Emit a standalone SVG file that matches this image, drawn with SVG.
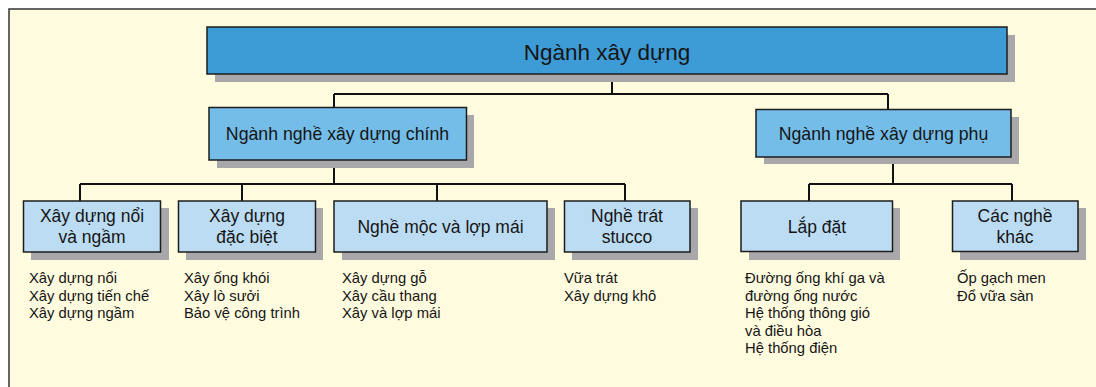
<svg xmlns="http://www.w3.org/2000/svg" width="1096" height="387" viewBox="0 0 1096 387">
<style>
  text { font-family: "Liberation Sans", Arial, sans-serif; fill: #151515; }
  .sh { fill: #a8a8ab; }
  .b { stroke: #1c1c1c; stroke-width: 1.5; }
  .top { fill: #3d9bd6; }
  .l2 { fill: #74bde8; }
  .l3 { fill: #bcdcf3; }
  .t1 { font-size: 22.5px; text-anchor: middle; }
  .t2 { font-size: 17.7px; text-anchor: middle; }
  .t3 { font-size: 17.5px; text-anchor: middle; }
  .li { font-size: 14.8px; }
  .conn { fill: none; stroke: #111; stroke-width: 2; }
</style>
<rect x="0" y="0" width="1096" height="387" fill="#ffffff"/>
<rect x="9" y="9" width="1120" height="420" fill="#fffbde" stroke="#333" stroke-width="1.5"/>

<g id="connectors">
  <path class="conn" d="M612 74 V94 M334 94 H888 M334 94 V107.5 M888 94 V109.5"/>
  <path class="conn" d="M334 160 V184 M80 184 H625 M80 184 V201 M242 184 V201 M437 184 V201 M625 184 V201"/>
  <path class="conn" d="M893 157 V184 M809 184 H1012 M809 184 V201 M1012 184 V201"/>
</g>

<g id="root">
  <rect class="sh" x="215" y="35" width="800" height="47"/>
  <rect class="top b" x="207" y="27" width="800" height="47"/>
  <text class="t1" x="607" y="59.5">Ngành xây dựng</text>
</g>

<g id="main-trades">
  <rect class="sh" x="217" y="115" width="257" height="53"/>
  <rect class="l2 b" x="209" y="107.5" width="257.5" height="52.5"/>
  <text class="t2" x="337.5" y="140">Ngành nghề xây dựng chính</text>
</g>

<g id="sub-trades">
  <rect class="sh" x="764" y="117" width="255" height="47"/>
  <rect class="l2 b" x="756" y="109.5" width="255" height="47.5"/>
  <text class="t2" x="883.5" y="140">Ngành nghề xây dựng phụ</text>
</g>

<g id="surface-underground">
  <rect class="sh" x="31" y="208" width="138" height="52"/>
  <rect class="l3 b" x="23.5" y="201" width="137" height="51"/>
  <text class="t3" x="92" y="221.5">Xây dựng nổi</text>
  <text class="t3" x="92" y="242.5">và ngầm</text>
  <text class="li" x="29" y="283">Xây dựng nổi</text>
  <text class="li" x="29" y="300.5">Xây dựng tiến chế</text>
  <text class="li" x="29" y="318">Xây dựng ngầm</text>
</g>

<g id="special">
  <rect class="sh" x="186" y="208" width="137" height="52"/>
  <rect class="l3 b" x="178.5" y="201" width="137" height="51"/>
  <text class="t3" x="247" y="221.5">Xây dựng</text>
  <text class="t3" x="247" y="242.5">đặc biệt</text>
  <text class="li" x="184" y="283">Xây ống khói</text>
  <text class="li" x="184" y="300.5">Xây lò sưởi</text>
  <text class="li" x="184" y="318">Bảo vệ công trình</text>
</g>

<g id="carpentry">
  <rect class="sh" x="342" y="208" width="213" height="52"/>
  <rect class="l3 b" x="334" y="201" width="213" height="51"/>
  <text class="t3" x="440.5" y="232.5">Nghề mộc và lợp mái</text>
  <text class="li" x="342" y="283">Xây dựng gỗ</text>
  <text class="li" x="342" y="300.5">Xây cầu thang</text>
  <text class="li" x="342" y="318">Xây và lợp mái</text>
</g>

<g id="stucco">
  <rect class="sh" x="572" y="208" width="126" height="52"/>
  <rect class="l3 b" x="564.5" y="201" width="125.5" height="51"/>
  <text class="t3" x="627" y="221.5">Nghề trát</text>
  <text class="t3" x="627" y="242.5">stucco</text>
  <text class="li" x="564" y="283">Vữa trát</text>
  <text class="li" x="564" y="300.5">Xây dựng khô</text>
</g>

<g id="installation">
  <rect class="sh" x="749" y="208" width="151" height="52"/>
  <rect class="l3 b" x="741" y="201" width="151.5" height="50.5"/>
  <text class="t3" x="817" y="232.5">Lắp đặt</text>
  <text class="li" x="745" y="283">Đường ống khí ga và</text>
  <text class="li" x="745" y="300.5">đường ống nước</text>
  <text class="li" x="745" y="318">Hệ thống thông gió</text>
  <text class="li" x="745" y="335.5">và điều hòa</text>
  <text class="li" x="745" y="353">Hệ thống điện</text>
</g>

<g id="other">
  <rect class="sh" x="960" y="208" width="126" height="52"/>
  <rect class="l3 b" x="952.5" y="201" width="125.5" height="50.5"/>
  <text class="t3" x="1015" y="221.5">Các nghề</text>
  <text class="t3" x="1015" y="242.5">khác</text>
  <text class="li" x="957" y="283">Ốp gạch men</text>
  <text class="li" x="957" y="300.5">Đổ vữa sàn</text>
</g>
</svg>
